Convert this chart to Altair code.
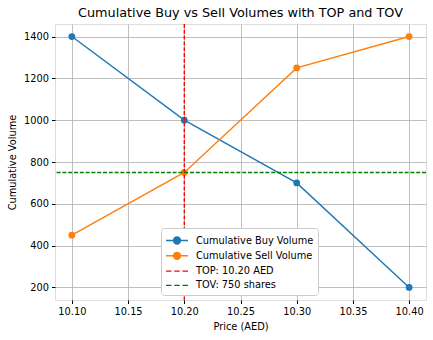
import altair as alt
import pandas as pd

prices = [10.10, 10.20, 10.30, 10.40]
buy_volume = [1400, 1000, 700, 200]
sell_volume = [450, 750, 1250, 1400]
top_price = 10.20
tov_volume = 750

series_names = ["Cumulative Buy Volume", "Cumulative Sell Volume", "TOP: 10.20 AED", "TOV: 750 shares"]
series_colors = ["#1f77b4", "#ff7f0e", "#ff0000", "#008000"]

line_sym = "M-1,0H1.93M0.93,0A0.46,0.46 0 1,1 0.01,0A0.46,0.46 0 1,1 0.93,0Z"
dash_sym = "M-1,0H-0.27M0.1,0H0.83M1.2,0H1.93"
series_shapes = [line_sym, line_sym, dash_sym, dash_sym]

df = pd.DataFrame({
    "price": prices * 2,
    "volume": buy_volume + sell_volume,
    "series": [series_names[0]] * 4 + [series_names[1]] * 4,
})

xscale = alt.Scale(domain=[10.085, 10.415], nice=False, zero=False)
yscale = alt.Scale(domain=[140, 1460], nice=False, zero=False)
cscale = alt.Scale(domain=series_names[:2], range=series_colors[:2])

xaxis = alt.Axis(title="Price (AED)", values=[10.10, 10.15, 10.20, 10.25, 10.30, 10.35, 10.40],
                 format=".2f", grid=True, gridColor="#b0b0b0", gridWidth=0.8,
                 tickColor="black", tickSize=3.5, domain=False, labelColor="black",
                 labelFontSize=9.8, titleFontSize=9.8, titleFontWeight="normal", titleColor="black",
                 labelPadding=3, titlePadding=5, labelFont="DejaVu Sans", titleFont="DejaVu Sans")
yaxis = alt.Axis(title="Cumulative Volume", values=[200, 400, 600, 800, 1000, 1200, 1400],
                 format="d", grid=True, gridColor="#b0b0b0", gridWidth=0.8,
                 tickColor="black", tickSize=3.5, domain=False, labelColor="black",
                 labelFontSize=9.8, titleFontSize=9.8, titleFontWeight="normal", titleColor="black",
                 labelPadding=3, titlePadding=6, labelFont="DejaVu Sans", titleFont="DejaVu Sans")

base = alt.Chart(df).encode(
    x=alt.X("price:Q", scale=xscale, axis=xaxis),
    y=alt.Y("volume:Q", scale=yscale, axis=yaxis),
    color=alt.Color("series:N", scale=cscale, legend=None),
    detail="series:N",
)

lines = base.mark_line(strokeWidth=1.4)
points = base.mark_point(filled=True, size=46, opacity=1)

vline = alt.Chart(pd.DataFrame({"price": [top_price]})).mark_rule(
    color="#ff0000", strokeDash=[4, 1.8], strokeWidth=1.4
).encode(x=alt.X("price:Q", scale=xscale))

hline = alt.Chart(pd.DataFrame({"volume": [tov_volume]})).mark_rule(
    color="#008000", strokeDash=[4, 1.8], strokeWidth=1.4
).encode(y=alt.Y("volume:Q", scale=yscale))

legend_df = pd.DataFrame({"series": series_names, "price": [prices[0]] * 4, "volume": [buy_volume[0]] * 4})
leg_scale_fill = alt.Scale(domain=series_names, range=series_colors)
leg_scale_stroke = alt.Scale(domain=series_names, range=series_colors)
leg_scale_shape = alt.Scale(domain=series_names, range=series_shapes)
legend = alt.Legend(
    title=None, orient="none", legendX=106, legendY=204,
    fillColor="white", strokeColor="#cccccc", cornerRadius=3, padding=4,
    symbolSize=225, symbolStrokeWidth=1.4, symbolOpacity=1,
    labelFontSize=9.8, labelFont="DejaVu Sans", labelColor="black",
    rowPadding=0.3, labelOffset=14, offset=0,
)
legend_layer = alt.Chart(legend_df).mark_point(opacity=0, filled=True).encode(
    x=alt.X("price:Q", scale=xscale),
    y=alt.Y("volume:Q", scale=yscale),
    fill=alt.Fill("series:N", scale=leg_scale_fill, legend=legend, sort=series_names),
    stroke=alt.Stroke("series:N", scale=leg_scale_stroke, legend=legend, sort=series_names),
    shape=alt.Shape("series:N", scale=leg_scale_shape, legend=legend, sort=series_names),
)

chart = alt.layer(lines, points, vline, hline, legend_layer).resolve_scale(
    color="independent"
).properties(
    width=371, height=276,
    title=alt.TitleParams("Cumulative Buy vs Sell Volumes with TOP and TOV", fontSize=12.8,
                          fontWeight="normal", font="DejaVu Sans", color="black", anchor="middle",
                          frame="group", offset=4),
    autosize=alt.AutoSizeParams(type="none"),
    padding={"left": 55, "top": 24, "right": 7, "bottom": 40},
).configure_view(stroke="black", strokeWidth=1).configure(background="white")

chart.save("out.html", embed_options={"renderer": "svg", "actions": False})
